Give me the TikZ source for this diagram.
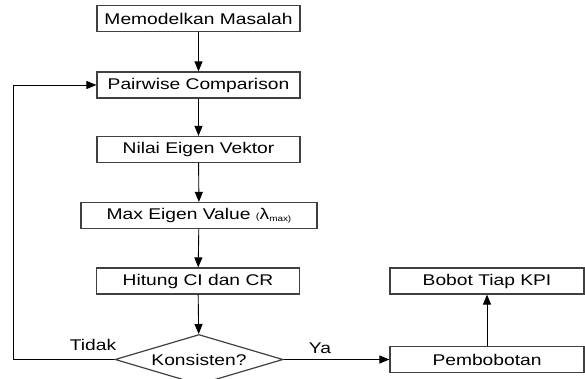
\documentclass[tikz,border=0pt]{standalone}
\usepackage{fontspec}
\setmainfont{Liberation Sans}[FakeStretch=1.24]
\usepackage{tikz}
\usetikzlibrary{arrows.meta,shapes.geometric}

\begin{document}
\begin{tikzpicture}[x=1pt,y=-1pt,
    box/.style={draw=black!75, line width=1.2pt, rectangle, inner sep=0pt,
                minimum width=203pt, minimum height=26pt,
                font=\fontsize{15.5}{18}\selectfont},
    keputusan/.style={draw=black!75, line width=1.2pt, diamond, aspect=3.4,
                inner sep=0pt, minimum width=168pt, minimum height=50pt,
                font=\fontsize{15.5}{18}\selectfont},
    label/.style={font=\fontsize{15.5}{18}\selectfont},
    arr/.style={line width=0.9pt, -{Triangle[length=10pt,width=8pt]}}]
    \useasboundingbox (0,0) rectangle (585,379);
    \node[box] (M) at (198.5,18.5) {Memodelkan Masalah};
    \node[box] (P) at (198.5,85) {Pairwise Comparison};
    \node[box] (N) at (198.5,149.5) {Nilai Eigen Vektor};
    \node[box, minimum width=236pt] (X) at (199,215.5)
        {Max Eigen Value {\small(}λ\raisebox{-0.3ex}{\footnotesize max)}};
    \node[box] (H) at (198,281) {Hitung CI dan CR};
    \node[keputusan] (D) at (199,359.5) {Konsisten?};
    \node[box, minimum width=194pt] (Pe) at (487,359.5) {Pembobotan};
    \node[box, minimum width=194pt] (B) at (487,281) {Bobot Tiap KPI};
    \coordinate (L) at (13,359.5);
    \draw[arr] (M) -- (P);
    \draw[arr] (P) -- (N);
    \draw[arr] (N) -- (X);
    \draw[arr] (X) -- (H);
    \draw[arr] (H) -- (D);
    \draw[arr] (D.east) -- (Pe.west);
    \draw[arr] (Pe) -- (B);
    \draw[arr] (D.west) -- (L) |- (P.west);
    \node[label] (tidak) at (93,345) {Tidak};
    \node[label] (ya) at (320,348) {Ya};
\end{tikzpicture}
\end{document}
